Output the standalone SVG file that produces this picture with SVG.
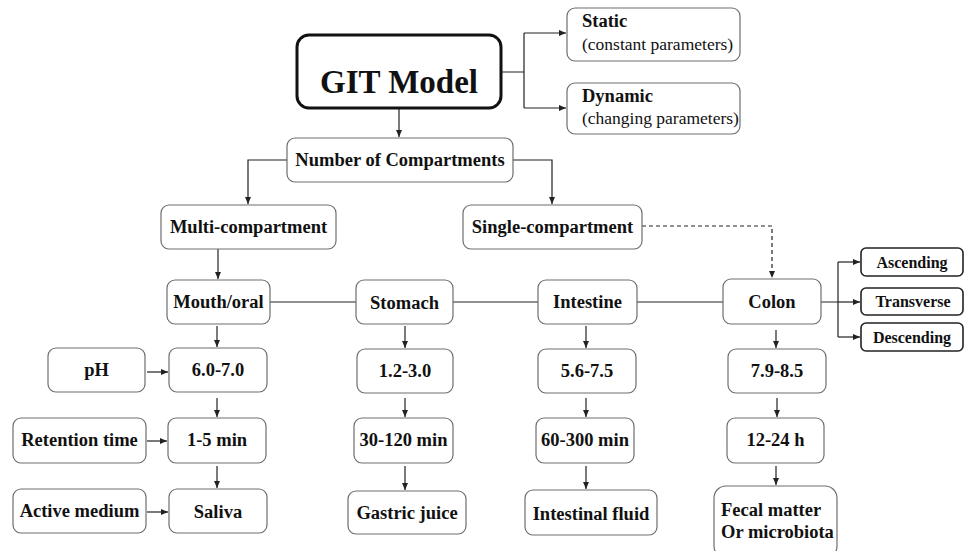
<svg xmlns="http://www.w3.org/2000/svg" width="965" height="551" viewBox="0 0 965 551">
<style>
.b{fill:#fff;stroke:#6e6e6e;stroke-width:1.2}
.k{fill:#fff;stroke:#222;stroke-width:1.6}
.t{font-family:"Liberation Serif","Times New Roman",serif;font-weight:bold;font-size:18.5px;fill:#111;text-anchor:middle}
.s{font-family:"Liberation Serif","Times New Roman",serif;font-weight:bold;font-size:16px;fill:#111;text-anchor:middle}
.r{font-family:"Liberation Serif","Times New Roman",serif;font-size:17.5px;fill:#111}
.c{fill:none;stroke:#222;stroke-width:1.2}
.a{marker-end:url(#ar)}
.d{stroke-dasharray:4 3}
</style>
<defs>
<marker id="ar" markerWidth="7" markerHeight="6" refX="7" refY="3" orient="auto" markerUnits="userSpaceOnUse">
<path d="M0,0 L7,3 L0,6 Z" fill="#222"/>
</marker>
</defs>
<rect width="965" height="551" fill="#fff"/>
<g id="connectors">
<path class="c" d="M500,72 H524 M524,33 V108"/>
<path class="c a" d="M524,33 H566"/>
<path class="c a" d="M524,108 H566"/>
<path class="c a" d="M399,108 V137"/>
<path class="c a" d="M287,160 H248 V204"/>
<path class="c a" d="M513,160 H552 V204"/>
<path class="c a" d="M218,249 V279"/>
<path class="c" d="M270,302 H356 M453,302 H538 M637,302 H723"/>
<path class="c d a" d="M642,226 H772 V278"/>
<path class="c" d="M821,302 H838 M838,262 V337"/>
<path class="c a" d="M838,262 H860"/>
<path class="c a" d="M838,302 H860"/>
<path class="c a" d="M838,337 H860"/>
<path class="c a" d="M217,326 V347"/>
<path class="c a" d="M405,326 V348"/>
<path class="c a" d="M586,326 V348"/>
<path class="c a" d="M776,330 V348"/>
<path class="c a" d="M217,398 V417"/>
<path class="c a" d="M405,398 V417"/>
<path class="c a" d="M586,398 V417"/>
<path class="c a" d="M777,398 V417"/>
<path class="c a" d="M217,466 V488"/>
<path class="c a" d="M405,466 V490"/>
<path class="c a" d="M586,466 V489"/>
<path class="c a" d="M776,466 V485"/>
<path class="c a" d="M147,372 H168"/>
<path class="c a" d="M147,441 H167"/>
<path class="c a" d="M147,512 H168"/>
</g>
<g id="git"><rect x="297" y="35" width="204" height="73" rx="12" fill="#fff" stroke="#111" stroke-width="3"/><text x="399" y="93" class="t" style="font-size:33px">GIT Model</text></g>
<g id="static"><rect class="b" x="567" y="8" width="173" height="53" rx="8"/><text x="582" y="27" class="t" style="text-anchor:start">Static</text><text x="582" y="50" class="r">(constant parameters)</text></g>
<g id="dynamic"><rect class="b" x="567" y="83" width="173" height="51" rx="8"/><text x="582" y="102" class="t" style="text-anchor:start">Dynamic</text><text x="582" y="124" class="r">(changing parameters)</text></g>
<g id="numcomp"><rect class="b" x="287" y="138" width="226" height="44" rx="8"/><text x="400" y="166" class="t">Number of Compartments</text></g>
<g id="multi"><rect class="b" x="161" y="205" width="175" height="44" rx="8"/><text x="248.5" y="233" class="t">Multi-compartment</text></g>
<g id="single"><rect class="b" x="463" y="205" width="179" height="44" rx="8"/><text x="552.5" y="233" class="t">Single-compartment</text></g>
<g id="mouth"><rect class="b" x="167" y="280" width="103" height="44" rx="8"/><text x="218.5" y="308" class="t">Mouth/oral</text></g>
<g id="stomach"><rect class="b" x="356" y="280" width="97" height="44" rx="8"/><text x="404.5" y="309" class="t">Stomach</text></g>
<g id="intestine"><rect class="b" x="538" y="280" width="99" height="44" rx="8"/><text x="587.5" y="308" class="t">Intestine</text></g>
<g id="colon"><rect class="b" x="723" y="279" width="98" height="45" rx="8"/><text x="772" y="308" class="t">Colon</text></g>
<g id="ascending"><rect class="k" x="861" y="248" width="102" height="28" rx="5"/><text x="912" y="268" class="s">Ascending</text></g>
<g id="transverse"><rect class="k" x="861" y="288" width="102" height="27" rx="5"/><text x="913" y="307" class="s">Transverse</text></g>
<g id="descending"><rect class="k" x="861" y="323" width="102" height="28" rx="5"/><text x="912" y="343" class="s">Descending</text></g>
<g id="ph"><rect class="b" x="48" y="348" width="97" height="44" rx="8"/><text x="96.5" y="376" class="t">pH</text></g>
<g id="ph-mouth"><rect class="b" x="169" y="348" width="98" height="44" rx="8"/><text x="218" y="376" class="t">6.0-7.0</text></g>
<g id="ph-stomach"><rect class="b" x="357" y="349" width="96" height="44" rx="8"/><text x="405" y="377" class="t">1.2-3.0</text></g>
<g id="ph-intestine"><rect class="b" x="538" y="349" width="98" height="44" rx="8"/><text x="587" y="377" class="t">5.6-7.5</text></g>
<g id="ph-colon"><rect class="b" x="728" y="349" width="98" height="44" rx="8"/><text x="777" y="377" class="t">7.9-8.5</text></g>
<g id="retention"><rect class="b" x="13" y="418" width="133" height="45" rx="8"/><text x="79.5" y="446" class="t">Retention time</text></g>
<g id="rt-mouth"><rect class="b" x="168" y="418" width="98" height="45" rx="8"/><text x="217" y="446" class="t">1-5 min</text></g>
<g id="rt-stomach"><rect class="b" x="354" y="418" width="99" height="45" rx="8"/><text x="403.5" y="446" class="t">30-120 min</text></g>
<g id="rt-intestine"><rect class="b" x="536" y="418" width="98" height="45" rx="8"/><text x="585" y="446" class="t">60-300 min</text></g>
<g id="rt-colon"><rect class="b" x="727" y="418" width="97" height="45" rx="8"/><text x="775.5" y="446" class="t">12-24 h</text></g>
<g id="active"><rect class="b" x="13" y="489" width="133" height="44" rx="8"/><text x="79.5" y="517" class="t">Active medium</text></g>
<g id="am-mouth"><rect class="b" x="169" y="489" width="98" height="44" rx="8"/><text x="218" y="518" class="t">Saliva</text></g>
<g id="am-stomach"><rect class="b" x="348" y="491" width="118" height="43" rx="8"/><text x="407" y="519" class="t">Gastric juice</text></g>
<g id="am-intestine"><rect class="b" x="525" y="490" width="132" height="45" rx="8"/><text x="591" y="520" class="t">Intestinal fluid</text></g>
<g id="am-colon"><rect class="b" x="714" y="486" width="123" height="72" rx="12"/><text x="721" y="516" class="t" style="text-anchor:start">Fecal matter</text><text x="721" y="538" class="t" style="text-anchor:start">Or microbiota</text></g>
</svg>
